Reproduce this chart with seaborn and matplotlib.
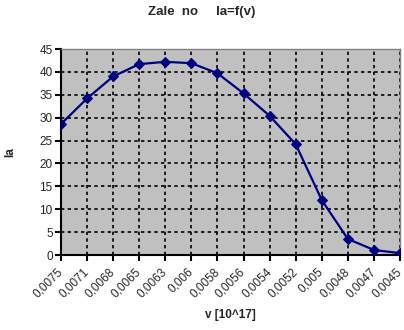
import matplotlib
matplotlib.use("Agg")
import matplotlib.pyplot as plt
import seaborn as sns
import pandas as pd

categories = ["0,0075", "0,0071", "0,0068", "0,0065", "0,0063", "0,006", "0,0058",
              "0,0056", "0,0054", "0,0052", "0,005", "0,0048", "0,0047", "0,0045"]
ia_values = [28.6, 34.2, 39.0, 41.7, 42.2, 41.9, 39.7, 35.3, 30.4, 24.2, 12.0, 3.5, 1.1, 0.4]
y_ticks = [0, 5, 10, 15, 20, 25, 30, 35, 40, 45]

df = pd.DataFrame({"pos": range(len(categories)), "Ia": ia_values})

sns.set_style("white")
plt.rcParams['font.family'] = ['Liberation Sans', 'DejaVu Sans']

fig = plt.figure(figsize=(4.04, 3.30), dpi=100)
ax = fig.add_axes([61/404, 75/330, 339/404, 206/330])
ax.set_facecolor("#C0C0C0")

sns.lineplot(data=df, x="pos", y="Ia", ax=ax, color="#000080", linewidth=1.6,
             marker="D", markersize=5, markeredgecolor="#000080", zorder=3)

ax.set_xlim(0, len(categories) - 1)
ax.set_ylim(0, 45)
ax.set_yticks(y_ticks)
ax.set_yticklabels([str(t) for t in y_ticks], fontsize=8.5)
ax.set_xticks(range(len(categories)))
ax.set_xticklabels(categories, rotation=45, ha="right", va="center",
                   rotation_mode="anchor", fontsize=8.5)

ax.grid(True, color="black", linestyle=(0, (2, 2)), linewidth=1.2)
for l in ax.get_xgridlines() + ax.get_ygridlines():
    l.set_zorder(1)

ax.tick_params(axis="both", direction="out", length=4, width=1.5, color="black",
               left=True, bottom=True)
ax.tick_params(axis="x", pad=7)
ax.tick_params(axis="y", pad=2)
for s in ["left", "bottom"]:
    ax.spines[s].set_color("black")
    ax.spines[s].set_linewidth(1.5)
for s in ["top", "right"]:
    ax.spines[s].set_color("#808080")
    ax.spines[s].set_linewidth(1.0)

ax.set_xlabel("v [10^17]", fontsize=8.5, fontweight="bold", labelpad=6)
ax.set_ylabel("Ia", fontsize=8.5, fontweight="bold", labelpad=17)
fig.text(0.5, 0.965, "Zale  no     Ia=f(v)", ha="center", va="center",
         fontsize=9.5, fontweight="bold")

fig.savefig("out.png", dpi=100)
